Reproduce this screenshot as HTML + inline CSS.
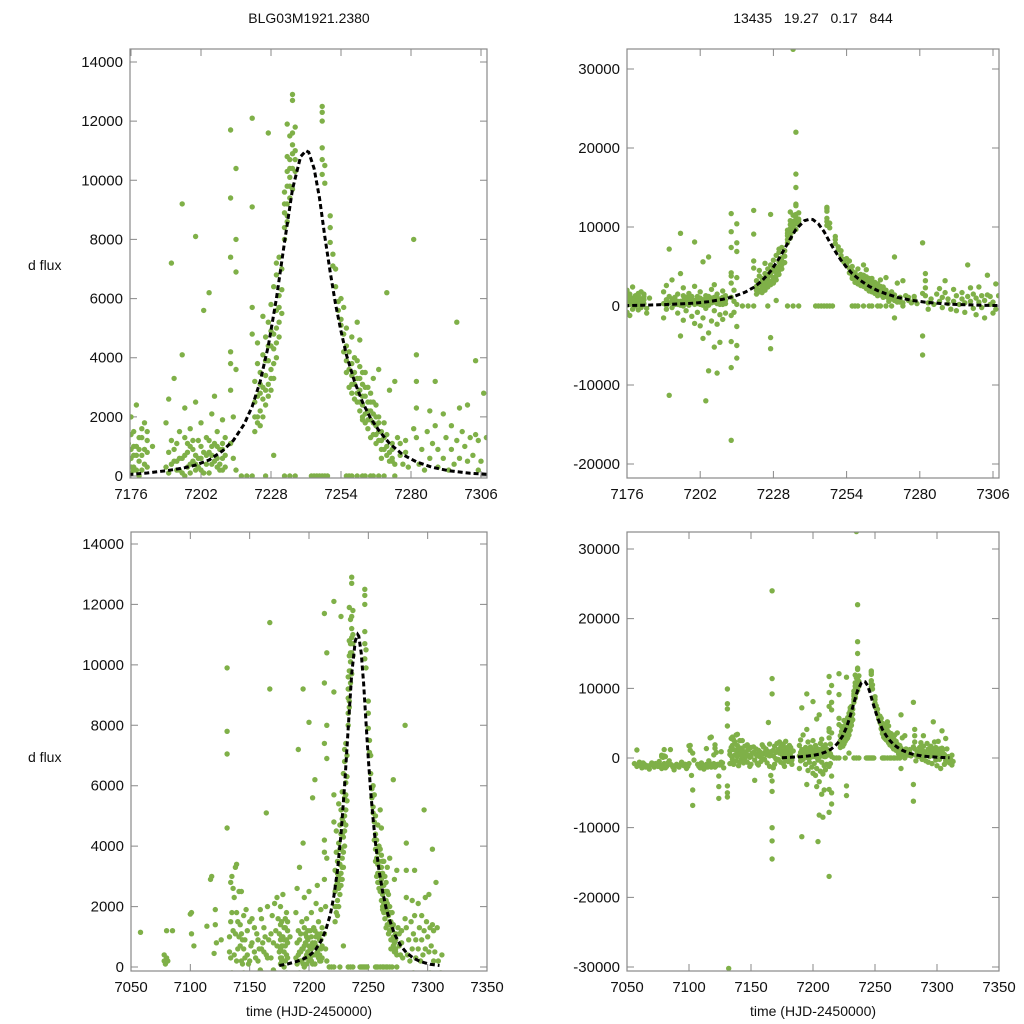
<!DOCTYPE html>
<html><head><meta charset="utf-8"><style>
html,body{margin:0;padding:0;background:#fff;width:1024px;height:1024px;overflow:hidden}
svg{display:block;position:absolute;left:0;top:0;font-family:"Liberation Sans",sans-serif}
</style></head><body>
<svg id="chart" width="1024" height="1024" viewBox="0 0 1024 1024" overflow="hidden">
<rect width="1024" height="1024" fill="#fff"/>
<text x="309" y="23" font-size="14" text-anchor="middle" fill="#111">BLG03M1921.2380</text>
<text x="813" y="23" font-size="14" text-anchor="middle" fill="#111" xml:space="preserve">13435   19.27   0.17   844</text>
<text x="28" y="270" font-size="14" fill="#111">d flux</text>
<text x="28" y="762" font-size="14" fill="#111">d flux</text>
<text x="309" y="1016" font-size="14" text-anchor="middle" fill="#111">time (HJD-2450000)</text>
<text x="813" y="1016" font-size="14" text-anchor="middle" fill="#111">time (HJD-2450000)</text>
</svg>
<script>
// observations [time, dflux]
const obs=[[7056,-800],[7058,-1200],[7060,-600],[7062,-1400],[7064,-900],[7066,-1100],[7068,-1600],[7070,-700],[7072,-1300],[7074,-1000],[7076,-500],[7078,-1500],[7080,-800],[7082,-1200],[7084,-400],[7086,-1000],[7088,-1700],[7090,-900],[7092,-1300],[7094,-600],[7096,-1100],[7098,-1500],[7100,-800],[7101,1800],[7102,-2500],[7103,-4600],[7103,-6800],[7104,-300],[7108,-1200],[7110,-700],[7112,-1600],[7114,-900],[7116,-400],[7117,2900],[7118,-1300],[7120,-800],[7121,1400],[7122,-1100],[7124,-2600],[7124,-4100],[7124,-5800],[7126,-600],[7128,-1400],
[7058,1150],[7080,1200],[7080,300],[7078,200],[7085,1200],[7100,1750],[7101,1100],[7103,700],[7114,1350],[7118,3000],[7121,1900],[7122,800],[7126,900],[7120,450],
[7059,-1000],[7063,-700],[7067,-1300],[7071,-900],[7075,-1200],[7079,-1000],[7083,-700],[7087,-1300],[7091,-1100],[7095,-800],[7099,-1200],[7107,-900],[7111,-1000],[7115,-1300],[7119,-1100],[7123,-900],[7127,-700],
[7061,-1100],[7065,-1300],[7069,-1000],[7073,-800],[7077,-1100],[7081,-1400],[7085,-900],[7089,-1200],[7093,-1000],[7097,-900],[7109,-1400],[7113,-1100],[7117,-800],[7121,-1300],[7125,-1000],[7078,400],[7079,100],[7081,200],
[7131,9900],[7131,7800],[7131,7050],[7131,4600],[7132,-30200],[7131,-4000],[7131,-5000],[7131,-5600],
[7133,-800],[7133,500],[7134,1500],[7134,2800],[7135,-200],[7135,3000],[7136,1200],[7136,-900],[7137,2300],[7137,400],[7138,3300],[7138,-400],[7139,1800],[7139,3400],[7140,600],[7140,-1100],[7141,1000],[7141,2500],[7142,-300],[7142,1400],[7143,200],[7144,-700],[7144,900],[7145,1700],[7145,-200],
[7133,1000],[7134,300],[7135,1800],[7136,2600],[7137,-500],[7138,1100],[7139,200],[7140,1500],[7141,-600],[7142,700],[7143,1100],[7144,100],[7145,600],
[7146,300],[7147,-600],[7148,1200],[7149,100],[7150,-900],[7151,700],[7152,1600],[7153,-300],[7153,-3200],[7154,500],[7155,-800],[7156,1100],[7157,200],[7158,-500],[7159,1900],[7160,600],[7161,-200],[7162,1300],[7163,-700],[7164,400],[7165,2000],[7165,-1200],[7166,900],[7166,-2500],[7167,24000],[7167,11400],[7167,9200],[7164,5100],[7167,-3300],[7167,-4800],[7167,-10000],[7167,-11900],[7167,-14500],[7168,300],[7169,-900],[7169,1700],[7170,800],[7171,-300],[7172,1200],[7173,2300],[7174,-600],[7175,500],[7176,1400],[7177,-1200],[7178,200],[7178,2400],[7179,900],[7180,-500],[7181,1800],[7182,300],[7183,-900],[7184,1000],[7181,-200],[7177,700],[7174,1600],[7171,2100],[7160,1600],[7156,-1000],[7150,1500],[7147,1900],[7143,2500],
[7149,-1200],[7155,300],[7161,800],[7168,-1400],[7172,-200],[7176,-800],[7180,700],[7183,-300],[7176,2000],[7177,300],[7179,1300],[7180,200],[7181,900],[7182,1500],[7178,-400],
[7146,900],[7148,400],[7150,200],[7152,800],[7154,1300],[7157,900],[7158,600],[7159,-100],[7162,500],[7163,1000],[7165,300],[7168,1100],[7170,-100],[7173,700],[7175,1100],[7176,300],[7176,900],[7177,1500],[7178,1000],[7179,500],[7180,1300],[7181,400],[7182,800],[7176,100],[7177,200],[7179,0],[7180,1600],[7182,1200],[7176,600],[7177,1000],[7178,700],
[7189,1800],[7189,-1500],[7189,300],[7190,2600],[7190,800],[7190,-400],[7191,7200],[7191,-11300],[7191,1200],[7192,-200],[7192,3300],[7193,500],[7194,-900],[7194,1500],[7195,9200],[7195,4100],[7195,-3800],[7195,100],[7196,700],[7196,2300],[7196,-1800],[7197,1100],[7197,-600],[7198,400],[7198,1600],[7199,-1300],[7199,900],[7200,8100],[7200,2500],[7200,200],[7200,-2200],[7201,1200],[7201,-800],[7202,600],[7202,1800],[7202,-2500],[7203,5600],[7203,100],[7203,-1500],[7203,-4100],[7204,-12000],[7204,1300],[7204,-300],[7205,800],[7205,6200],[7205,-3400],[7205,-8200],[7206,400],[7206,2100],[7206,-1900],[7207,1100],[7207,-600],[7207,-5200],[7207,2700],[7208,300],[7208,-8500],[7208,-2300],[7208,1500],[7209,900],[7209,-1100],[7209,-4600],[7210,200],[7210,1900],[7210,-1700],[7211,700],[7211,-900],
[7192,900],[7193,200],[7194,600],[7197,300],[7198,1000],[7199,500],[7201,300],[7204,700],[7206,1000],[7209,400],[7210,1100],[7211,300],
[7190,100],[7191,400],[7192,500],[7193,1100],[7194,200],[7195,600],[7196,1300],[7197,800],[7198,100],[7199,1200],[7200,700],[7201,600],[7202,1000],[7203,800],[7204,400],[7205,1200],[7206,700],[7207,500],[7208,1000],[7209,200],[7210,600],[7211,1300],[7196,0],[7200,400],[7202,200],[7205,100],[7208,600],[7210,900],
[7213,3800],[7213,4200],[7213,11700],[7213,9400],[7213,7400],[7213,-4500],[7213,-7800],[7213,-17000],[7213,1100],[7213,-1200],[7213,2900],[7214,600],[7214,2000],[7214,-800],[7215,10400],[7215,8000],[7215,6900],[7215,3600],[7215,-2600],[7215,-5000],[7215,-6600],[7215,200],
[7217,0],[7219,0],[7221,12100],[7221,9100],[7221,5700],[7221,0],[7221,4800],
[7222,1500],[7222,2500],[7222,3200],[7223,2000],[7223,3800],[7223,4500],[7223,1800],[7224,2800],[7224,3500],[7224,2200],[7225,4100],[7225,3000],[7225,5400],[7225,2600],[7226,3400],[7226,4700],[7226,2400],[7226,0],[7227,3900],[7227,5200],[7227,3100],[7227,11600],[7227,-4000],[7227,-5400],[7228,4400],[7228,3600],[7228,5800],[7228,2900],[7229,4800],[7229,6400],[7229,3800],[7229,700],[7230,5600],[7230,7200],[7230,4500],[7230,6800],[7231,6100],[7231,7400],[7231,5200],
[7222,2000],[7223,2700],[7224,1700],[7224,3100],[7225,2000],[7226,2900],[7226,3900],[7227,2700],[7227,4400],[7228,3300],[7228,4900],[7229,3300],[7229,4300],[7230,4000],[7230,5000],[7231,4700],[7231,5700],[7232,6300],[7232,7000],[7232,5500],
[7233,8400],[7233,9600],[7233,8900],[7233,0],[7234,9200],[7234,10300],[7234,8600],[7234,11900],[7234,9800],[7235,10100],[7235,11500],[7235,10700],[7235,9400],[7235,0],[7235,32500],[7236,10900],[7236,11200],[7236,12700],[7236,22000],[7236,16700],[7236,15000],[7236,12900],[7236,10400],[7237,11800],[7237,11000],[7237,0],
[7233,8000],[7233,9200],[7234,8800],[7234,10800],[7235,9800],[7235,10400],[7236,9700],[7236,11600],[7237,10300],[7237,10700],
[7247,12500],[7247,12300],[7247,12000],[7247,11100],[7247,10700],[7247,10200],[7248,9900],[7248,10500],[7246,0],[7247,0],[7248,0],[7249,0],
[7250,8800],[7250,7900],[7250,8400],[7251,7100],[7251,7500],[7252,6400],[7252,7000],[7253,5900],[7253,5600],[7254,6000],[7254,5300],[7254,5100],[7255,5700],[7255,4800],[7255,4200],[7256,4400],[7256,5000],[7256,3900],[7257,3600],[7257,4200],[7257,0],[7258,3400],[7258,2800],[7258,4700],[7258,3800],[7259,3100],[7259,2600],[7259,4000],[7260,5200],[7260,2500],[7260,3300],[7260,0],[7261,2900],[7261,2200],[7261,4600],[7261,3700],[7262,2400],[7262,3100],[7262,1900],[7262,2000],[7263,2700],[7263,1800],[7263,3500],[7263,0],[7264,2200],[7264,1600],[7264,3000],[7265,1900],[7265,2500],[7265,1300],[7265,0],[7266,2100],[7266,1400],[7266,3300],[7267,1700],[7267,1100],[7267,2400],[7268,1500],[7268,2000],[7268,3600],[7269,1200],[7269,900],[7270,1800],[7270,0],[7271,1000],[7271,1400],[7271,6200],[7271,-1500],[7272,800],[7272,2900],[7273,1100],[7273,600],[7273,500],[7274,3200],[7275,1300],[7276,700],[7276,1100],[7277,400],[7278,1200],[7278,800],[7279,300],
[7256,3500],[7257,3000],[7258,3100],[7259,3500],[7260,2800],[7260,3900],[7261,2500],[7261,3300],[7262,2700],[7262,3500],[7263,2100],[7263,3000],[7264,2500],[7264,1900],[7265,2200],[7265,2800],[7266,1800],[7266,2500],[7267,1400],[7267,2000],[7268,1200],[7268,1800],[7269,1500],[7269,600],[7270,1300],[7270,900],[7271,700],[7272,500],[7273,900],[7274,400],
[7281,8000],[7281,-3800],[7281,-6200],[7281,1600],[7282,4100],[7282,3200],[7282,2300],[7282,1300],[7283,400],[7283,-400],[7284,900],[7285,200],[7286,1500],[7287,2200],[7287,600],[7288,-200],[7288,1100],[7289,3200],[7289,1700],[7290,900],[7290,300],[7291,-400],[7292,600],[7292,2100],[7293,1300],[7293,-600],[7294,200],[7295,1700],[7295,900],[7296,-800],[7296,400],[7297,1200],[7297,5200],[7298,2300],[7298,600],[7299,-300],[7299,1500],[7300,1000],[7300,-1100],[7301,2400],[7301,500],[7302,1300],[7302,-200],[7303,700],[7303,-1500],[7304,1400],[7304,3900],[7305,200],[7305,1200],[7306,-900],[7306,500],[7307,2800],[7307,-400],[7308,1300],[7309,200],[7310,-700],[7311,-200],[7312,-1000],[7312,400],[7313,-500],
[7243,0],[7244,0],[7245,0],[7256,0],[7258,0],[7262,0],[7266,0],[7268,0],[7274,0]];
// model curve samples
const modelT=[7175,7182,7190,7196,7200,7205,7210,7214,7218,7221,7224,7227,7230,7233,7236,7239,7241,7242,7244,7246,7248,7250,7252,7254,7256,7259,7262,7265,7268,7272,7277,7282,7288,7294,7302,7310];
const modelF=[50,100,190,280,370,540,850,1200,1750,2350,3200,4400,6000,7900,9700,10800,11000,10950,10400,9400,8100,6900,5800,4900,4100,3200,2500,1950,1550,1100,720,480,290,180,90,50];
// ticks
const xTicksTop=[7176,7202,7228,7254,7280,7306];
const xTicksBottom=[7050,7100,7150,7200,7250,7300,7350];
const yTicksTL=[0,2000,4000,6000,8000,10000,12000,14000];
const yTicksTR=[-20000,-10000,0,10000,20000,30000];
const yTicksBL=[0,2000,4000,6000,8000,10000,12000,14000];
const yTicksBR=[-30000,-20000,-10000,0,10000,20000,30000];

const NS='http://www.w3.org/2000/svg';
const svg=document.getElementById('chart');
function mk(tag,attrs,parent){const e=document.createElementNS(NS,tag);for(const k in attrs)e.setAttribute(k,attrs[k]);(parent||svg).appendChild(e);return e;}

const panels=[
 {id:'top-left',L:130,R:487,T:49,B:478,x0:7176,x0p:131,x1:7306,x1p:481,y0:0,y0p:476,y1:14000,y1p:62,xt:xTicksTop,yt:yTicksTL},
 {id:'top-right',L:627,R:999,T:49,B:478,x0:7176,x0p:627,x1:7306,x1p:993,y0:0,y0p:306,y1:30000,y1p:69,xt:xTicksTop,yt:yTicksTR},
 {id:'bottom-left',L:131,R:487,T:532,B:971,x0:7050,x0p:131,x1:7350,x1p:487,y0:0,y0p:967,y1:14000,y1p:544,xt:xTicksBottom,yt:yTicksBL},
 {id:'bottom-right',L:627,R:999,T:532,B:971,x0:7050,x0p:627,x1:7350,x1p:999,y0:0,y0p:758,y1:30000,y1p:549,xt:xTicksBottom,yt:yTicksBR}
];

panels.forEach(p=>{
 const sx=v=>p.x0p+(v-p.x0)*(p.x1p-p.x0p)/(p.x1-p.x0);
 const sy=v=>p.y0p+(v-p.y0)*(p.y1p-p.y0p)/(p.y1-p.y0);
 const g=mk('g',{});
 
 
 const cid='clip-'+p.id;
 const cp=mk('clipPath',{id:cid},g);
 mk('rect',{x:p.L,y:p.T,width:p.R-p.L,height:p.B-p.T},cp);
 p.xt.forEach(t=>{
  const x=sx(t);
  const tk=mk('path',{d:`M${x},${p.B}V${p.B-7}M${x},${p.T}V${p.T+7}`,stroke:'#888','stroke-width':1},g);
  
  
  const lb=mk('text',{x:x,y:p.B+21,'font-size':15,'text-anchor':'middle',fill:'#111'},g);
  lb.textContent=t;
  
  
 });
 p.yt.forEach(t=>{
  const y=sy(t);
  const tk=mk('path',{d:`M${p.L},${y}H${p.L+7}M${p.R},${y}H${p.R-7}`,stroke:'#888','stroke-width':1},g);
  
  
  const lb=mk('text',{x:p.L-7,y:y+5,'font-size':15,'text-anchor':'end',fill:'#111'},g);
  lb.textContent=t;
  
  
 });
 const pg=mk('g',{'clip-path':`url(#${cid})`,fill:'#7fb048'},g);
 
 
 obs.forEach(o=>{
  const cx=sx(o[0]), cy=sy(o[1]);
  if(cx<p.L-3||cx>p.R+3||cy<p.T-3||cy>p.B+3) return;
  const c=mk('circle',{cx:cx.toFixed(1),cy:cy.toFixed(1),r:2.7},pg);
  
  
 });
 const d=modelT.map((t,i)=>(i?'L':'M')+sx(t).toFixed(1)+','+sy(modelF[i]).toFixed(1)).join('');
 const ln=mk('path',{d:d,fill:'none',stroke:'#000','stroke-width':3,'stroke-dasharray':'5,3','clip-path':`url(#${cid})`},g);
 
 
 const fr=mk('rect',{x:p.L,y:p.T,width:p.R-p.L,height:p.B-p.T,fill:'none',stroke:'#888','stroke-width':1.2},g);
 
 
});
</script>
</body></html>
